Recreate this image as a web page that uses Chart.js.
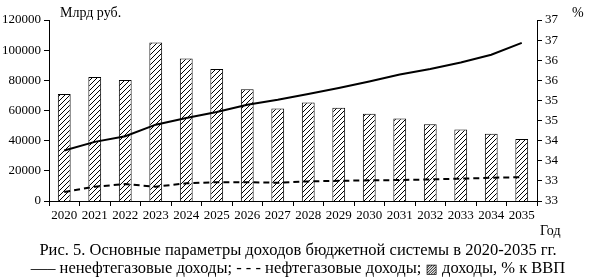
<!DOCTYPE html>
<html>
<head>
<meta charset="utf-8">
<script src="https://cdn.jsdelivr.net/npm/chart.js@4"></script>
<style>
    body { margin: 0; background: #fff; }
    #wrap { position: relative; width: 595px; height: 279px; font-family: "Liberation Serif", serif; color: #000; }
    .lbl { position: absolute; white-space: nowrap; }
    #caption { position: absolute; left: 0; width: 596px; text-align: center; font-size: 16.5px; line-height: 18px; white-space: nowrap; }
</style>
</head>
<body>
<div id="wrap">
    <canvas id="chart" width="595" height="279"></canvas>
    <div class="lbl" style="left:60px; top:5px; font-size:14px;">Млрд руб.</div>
    <div class="lbl" style="left:572px; top:5px; font-size:14px;">%</div>
    <div class="lbl" style="left:540px; top:223px; font-size:14px;">Год</div>
    <div id="caption" style="top:241px;">
        Рис. 5. Основные параметры доходов бюджетной системы в 2020-2035 гг.<br>
        —– ненефтегазовые доходы; - - - нефтегазовые доходы; <span style="font-family:'DejaVu Sans'; font-size:13px;">▨</span> доходы, % к ВВП
    </div>
</div>
<script>
// ========================
// DATA
// ========================
const years = ['2020', '2021', '2022', '2023', '2024', '2025', '2026', '2027',
               '2028', '2029', '2030', '2031', '2032', '2033', '2034', '2035'];

// ненефтегазовые доходы, млрд руб.
const nonOilGas = [33500, 39200, 42900, 50600, 55000, 59000, 63800, 67100,
                   70900, 74900, 79200, 83800, 87500, 91800, 97000, 104800];

// нефтегазовые доходы, млрд руб.
const oilGas = [5900, 9500, 11200, 9500, 11700, 12500, 12500, 12100,
                13000, 13400, 13700, 13900, 14300, 14800, 15400, 15800];

// доходы, % к ВВП
const revenueGdp = [35.16, 35.58, 35.51, 36.44, 36.04, 35.78, 35.28, 34.80,
                    34.95, 34.82, 34.67, 34.55, 34.41, 34.28, 34.17, 34.04];

// ========================
// HATCH PATTERN
// ========================
function makeHatch() {
    const c = document.createElement('canvas');
    c.width = 5;
    c.height = 5;
    const g = c.getContext('2d');
    g.fillStyle = '#fff';
    g.fillRect(0, 0, 5, 5);
    g.strokeStyle = '#000';
    g.lineWidth = 1;
    g.beginPath();
    g.moveTo(-1, 6); g.lineTo(6, -1);
    g.moveTo(-1, 1); g.lineTo(1, -1);
    g.moveTo(4, 6); g.lineTo(6, 4);
    g.stroke();
    return g.createPattern(c, 'repeat');
}

const font = { family: '"Liberation Serif", serif', size: 13 };
const axisGrid = { drawOnChartArea: false, color: '#000', tickLength: 5, tickColor: '#000' };
const axisBorder = { color: '#000', width: 1 };

const ctx = document.getElementById('chart').getContext('2d');
new Chart(ctx, {
    type: 'bar',
    data: {
        labels: years,
        datasets: [
            {
                type: 'line',
                label: 'ненефтегазовые доходы',
                data: nonOilGas,
                yAxisID: 'y',
                borderColor: '#000',
                borderWidth: 2,
                pointRadius: 0,
                tension: 0,
                order: 1
            },
            {
                type: 'line',
                label: 'нефтегазовые доходы',
                data: oilGas,
                yAxisID: 'y',
                borderColor: '#000',
                borderWidth: 2,
                borderDash: [6, 4],
                pointRadius: 0,
                tension: 0,
                order: 2
            },
            {
                type: 'bar',
                label: 'доходы, % к ВВП',
                data: revenueGdp,
                yAxisID: 'y1',
                backgroundColor: makeHatch(),
                borderColor: '#000',
                borderWidth: 1,
                barPercentage: 0.42,
                categoryPercentage: 1,
                order: 3
            }
        ]
    },
    options: {
        responsive: false,
        animation: false,
        layout: { padding: { top: 20, left: 0, right: 0, bottom: 0 } },
        plugins: { legend: { display: false }, tooltip: { enabled: false } },
        scales: {
            x: {
                grid: { ...axisGrid, offset: true },
                border: axisBorder,
                ticks: { font: font, color: '#000', padding: 2, maxRotation: 0 },
                afterFit: s => { s.height = 78; }
            },
            y: {
                position: 'left',
                min: 0,
                max: 120000,
                grid: axisGrid,
                border: axisBorder,
                ticks: { stepSize: 20000, font: font, color: '#000', padding: 3, callback: v => String(v) },
                afterFit: s => { s.width = 49; }
            },
            y1: {
                position: 'right',
                min: 32.5,
                max: 37,
                grid: axisGrid,
                border: axisBorder,
                ticks: {
                    stepSize: 0.5,
                    font: font,
                    color: '#000',
                    padding: 3,
                    callback: v => Math.round(v)
                },
                afterFit: s => { s.width = 58; }
            }
        }
    }
});
</script>
</body>
</html>
